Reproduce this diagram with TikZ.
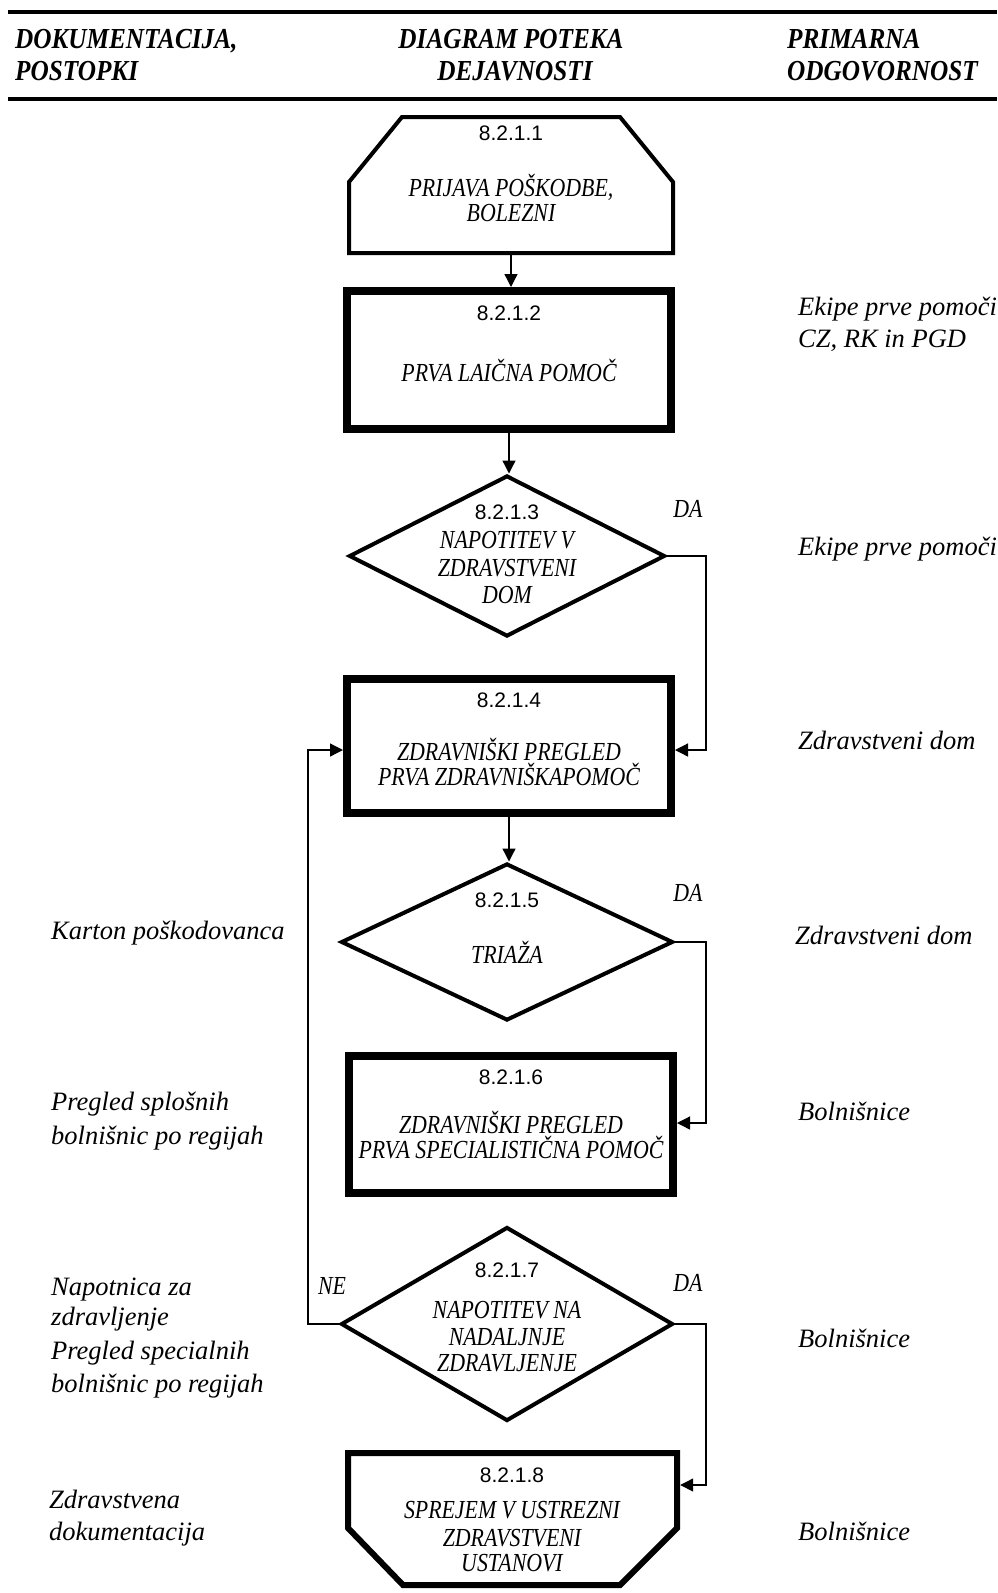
\documentclass[tikz,border=0pt]{standalone}
\usepackage{fontspec}
\setmainfont{Liberation Serif}
\newfontfamily\numfont{Liberation Sans}
\newfontfamily\boxfont[FakeStretch=0.84]{Liberation Serif}
\newfontfamily\headfont[FakeStretch=0.87]{Liberation Serif}
\usetikzlibrary{shapes.geometric,arrows.meta}
\tikzset{
  numtxt/.style={font=\numfont\fontsize{21}{21}\selectfont, anchor=base, inner sep=0pt},
  boxtxt/.style={font=\boxfont\itshape\fontsize{26}{26}\selectfont, anchor=base, inner sep=0pt},
  sidetxt/.style={font=\itshape\fontsize{26.5}{26.5}\selectfont, anchor=base west, inner sep=0pt},
  headtxt/.style={font=\headfont\bfseries\itshape\fontsize{29}{29}\selectfont, anchor=base, inner sep=0pt},
  headleft/.style={headtxt, anchor=base west},
  thickbox/.style={draw, rectangle, line width=8pt, inner sep=0pt},
  dia/.style={draw, diamond, line width=4pt, inner sep=0pt},
  frame/.style={rectangle, inner sep=0pt},
  conn/.style={line width=1.3pt},
  arr/.style={conn, -{Triangle[length=13pt,width=13pt]}},
  rule/.style={line width=3.5pt},
}
\begin{document}
\begin{tikzpicture}[x=1pt,y=-1pt]
\fill[white] (0,0) rectangle (997,1593);
\useasboundingbox (0,0) rectangle (997,1593);

% header rules
\coordinate (h1a) at (8,12);  \coordinate (h1b) at (997,12);
\coordinate (h2a) at (8,99);  \coordinate (h2b) at (997,99);
\draw[rule] (h1a) -- (h1b);
\draw[rule] (h2a) -- (h2b);

% header texts
\node[headleft] (hd1a) at (15,48) {DOKUMENTACIJA,};
\node[headleft] (hd1b) at (15,80) {POSTOPKI};
\node[headtxt] (hd2a) at (511,48) {DIAGRAM POTEKA};
\node[headtxt] (hd2b) at (515,80) {DEJAVNOSTI};
\node[headleft] (hd3a) at (787,48) {PRIMARNA};
\node[headleft] (hd3b) at (787,80) {ODGOVORNOST};

% 8.2.1.1 (chamfered top)
\node[frame, minimum width=328pt, minimum height=140pt] (b1) at (511,185) {};
\draw[line width=4pt, line join=miter] (402,117) -- (620,117) -- (673,182) -- (673,253) -- (349,253) -- (349,182) -- cycle;
\node[numtxt] (n1) at (511,140.5) {8.2.1.1};
\node[boxtxt] (t1a) at (511,196.6) {PRIJAVA POŠKODBE,};
\node[boxtxt] (t1b) at (511,221.6) {BOLEZNI};

% 8.2.1.2
\node[thickbox, minimum width=324pt, minimum height=138pt] (b2) at (509,360) {};
\node[numtxt] (n2) at (509,320.5) {8.2.1.2};
\node[boxtxt] (t2a) at (509,381.6) {PRVA LAIČNA POMOČ};

% 8.2.1.3
\node[dia, minimum width=316pt, minimum height=161pt] (d3) at (507,556) {};
\node[numtxt] (n3) at (507,519.5) {8.2.1.3};
\node[boxtxt] (t3a) at (507,548.6) {NAPOTITEV V};
\node[boxtxt] (t3b) at (507,576.6) {ZDRAVSTVENI};
\node[boxtxt] (t3c) at (507,603.6) {DOM};

% 8.2.1.4
\node[thickbox, minimum width=324pt, minimum height=134pt] (b4) at (509,746) {};
\node[numtxt] (n4) at (509,707.5) {8.2.1.4};
\node[boxtxt] (t4a) at (509,760.6) {ZDRAVNIŠKI PREGLED};
\node[boxtxt] (t4b) at (509,785.6) {PRVA ZDRAVNIŠKAPOMOČ};

% 8.2.1.5
\node[dia, minimum width=332pt, minimum height=157pt] (d5) at (507,942) {};
\node[numtxt] (n5) at (507,907.5) {8.2.1.5};
\node[boxtxt] (t5a) at (507,963.6) {TRIAŽA};

% 8.2.1.6
\node[thickbox, minimum width=324pt, minimum height=137pt] (b6) at (511,1124.5) {};
\node[numtxt] (n6) at (511,1084.5) {8.2.1.6};
\node[boxtxt] (t6a) at (511,1133.6) {ZDRAVNIŠKI PREGLED};
\node[boxtxt] (t6b) at (511,1158.6) {PRVA SPECIALISTIČNA POMOČ};

% 8.2.1.7
\node[dia, minimum width=332pt, minimum height=194pt] (d7) at (507,1324) {};
\node[numtxt] (n7) at (507,1277.5) {8.2.1.7};
\node[boxtxt] (t7a) at (507,1318.6) {NAPOTITEV NA};
\node[boxtxt] (t7b) at (507,1345.6) {NADALJNJE};
\node[boxtxt] (t7c) at (507,1371.6) {ZDRAVLJENJE};

% 8.2.1.8 (chamfered bottom)
\node[frame, minimum width=335pt, minimum height=138pt] (b8) at (512.5,1519) {};
\draw[line width=6pt, line join=miter] (348,1453) -- (677,1453) -- (677,1528) -- (620,1585) -- (403,1585) -- (348,1528) -- cycle;
\node[numtxt] (n8) at (512,1482.5) {8.2.1.8};
\node[boxtxt] (t8a) at (512,1518.6) {SPREJEM V USTREZNI};
\node[boxtxt] (t8b) at (512,1546.6) {ZDRAVSTVENI};
\node[boxtxt] (t8c) at (512,1571.6) {USTANOVI};

% connectors
\draw[arr] (b1.south) -- (b1.south |- b2.north);
\draw[arr] (b2.south) -- (b2.south |- d3.north);
\draw[arr] (b4.south) -- (b4.south |- d5.north);

\coordinate (r3) at (706,750);
\coordinate (r5) at (706,1123);
\coordinate (r7) at (706,1485);
\coordinate (l7) at (308,750);
\draw[arr] (d3.east) -- (d3.east -| r3) -- (r3) -- (b4.east |- r3);
\draw[arr] (d5.east) -- (d5.east -| r5) -- (r5) -- (b6.east |- r5);
\draw[arr] (d7.east) -- (d7.east -| r7) -- (r7) -- (b8.east |- r7);
\draw[arr] (d7.west) -- (d7.west -| l7) -- (l7) -- (b4.west |- l7);

% branch labels
\node[boxtxt] (da3) at (688,517) {DA};
\node[boxtxt] (da5) at (688,901) {DA};
\node[boxtxt] (da7) at (688,1291) {DA};
\node[boxtxt] (ne7) at (332,1294) {NE};

% left column
\node[sidetxt] (l1) at (51,939) {Karton poškodovanca};
\node[sidetxt] (l2a) at (51,1110) {Pregled splošnih};
\node[sidetxt] (l2b) at (51,1144) {bolnišnic po regijah};
\node[sidetxt] (l3a) at (51,1295) {Napotnica za};
\node[sidetxt] (l3b) at (51,1325) {zdravljenje};
\node[sidetxt] (l3c) at (51,1359) {Pregled specialnih};
\node[sidetxt] (l3d) at (51,1392) {bolnišnic po regijah};
\node[sidetxt] (l4a) at (49,1508) {Zdravstvena};
\node[sidetxt] (l4b) at (49,1540) {dokumentacija};

% right column
\node[sidetxt] (p1a) at (798,315) {Ekipe prve pomoči};
\node[sidetxt] (p1b) at (798,347) {CZ, RK in PGD};
\node[sidetxt] (p2) at (798,555) {Ekipe prve pomoči};
\node[sidetxt] (p3) at (798,749) {Zdravstveni dom};
\node[sidetxt] (p4) at (795,944) {Zdravstveni dom};
\node[sidetxt] (p5) at (798,1120) {Bolnišnice};
\node[sidetxt] (p6) at (798,1347) {Bolnišnice};
\node[sidetxt] (p7) at (798,1540) {Bolnišnice};
\end{tikzpicture}
\end{document}
